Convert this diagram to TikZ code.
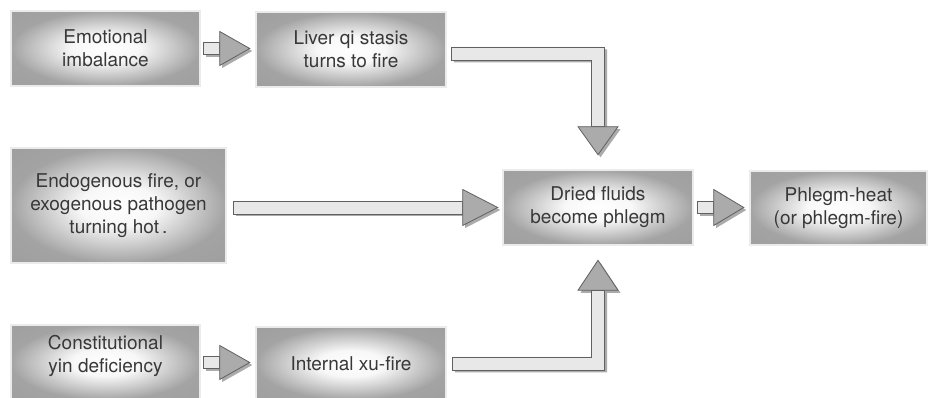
\documentclass[tikz,border=0pt]{standalone}
\usepackage{fontspec}
\setmainfont{TeX Gyre Heros}
\usetikzlibrary{calc,shadows}
\pgfdeclareradialshading{boxshade}{\pgfpoint{0bp}{0bp}}{color(0bp)=(white); color(9bp)=(white!97!black); color(25bp)=(black!36); color(50bp)=(black!40)}
\tikzset{
  box/.style={rectangle, shading=boxshade, draw=black!60, line width=0.55pt,
    double=black!8, double distance=1.4pt, inner sep=0pt,
    text=black!78, align=center, font=\fontsize{19}{23}\selectfont},
  txt/.style={text=black!78, align=center, font=\fontsize{19}{23}\selectfont, inner sep=0pt},
  shaftsty/.style={fill=black!9, draw=black!62, line width=0.8pt, line join=miter,
    drop shadow={shadow xshift=2.5pt, shadow yshift=-2.5pt, fill=black!55, opacity=0.6}},
  headsty/.style={fill=black!33, draw=black!62, line width=0.8pt, line join=miter,
    drop shadow={shadow xshift=2.5pt, shadow yshift=-2.5pt, fill=black!55, opacity=0.6}}
}
\begin{document}
\begin{tikzpicture}[x=1pt,y=1pt]
\useasboundingbox (0,0) rectangle (929,398);
\clip (0,0) rectangle (929,398);
\fill[white] (0,0) rectangle (929,398);

% boxes
\node[box, minimum width=189, minimum height=75] (emo) at (105.5,349.5) {Emotional\\imbalance};
\node[box, minimum width=190, minimum height=75] (liver) at (351,348.5) {Liver qi stasis\\turns to fire};
\node[box, minimum width=215, minimum height=115] (endo) at (118.5,192.5) {Endogenous fire, or\\exogenous pathogen\\turning hot\,.};
\node[box, minimum width=190, minimum height=75] (dried) at (598,190.5) {Dried fluids\\become phlegm};
\node[box, minimum width=177, minimum height=74] (phlegm) at (838.5,190) {Phlegm-heat\\(or phlegm-fire)};
\node[box, minimum width=189, minimum height=75] (const) at (105.5,35.5) {};
\node[txt] (consttxt) at ($(const.north)+(0,-31)$) {Constitutional\\yin deficiency};
\node[box, minimum width=190, minimum height=73] (internal) at (351,34.5) {Internal xu-fire};

% straight small arrows
\coordinate (a1s) at ($(emo.east)+(3,0)$);
\coordinate (a1t) at ($(liver.west)+(-6,0)$);
\filldraw[shaftsty] let \p1=(a1s), \p2=(a1t) in
  (\x1,\y1+6pt) -- (\x2-30pt,\y1+6pt) -- (\x2-30pt,\y1-6pt) -- (\x1,\y1-6pt) -- cycle;
\filldraw[headsty] let \p1=(a1s), \p2=(a1t) in
  (\x2-30pt,\y1+17pt) -- (\x2,\y1) -- (\x2-30pt,\y1-17pt) -- cycle;

\coordinate (a5s) at ($(const.east)+(3,0)$);
\coordinate (a5t) at ($(internal.west)+(-6,0)$);
\filldraw[shaftsty] let \p1=(a5s), \p2=(a5t) in
  (\x1,\y1+6pt) -- (\x2-30pt,\y1+6pt) -- (\x2-30pt,\y1-6pt) -- (\x1,\y1-6pt) -- cycle;
\filldraw[headsty] let \p1=(a5s), \p2=(a5t) in
  (\x2-30pt,\y1+17pt) -- (\x2,\y1) -- (\x2-30pt,\y1-17pt) -- cycle;

\coordinate (a4s) at ($(dried.east)+(4,0)$);
\coordinate (a4t) at ($(phlegm.west)+(-6,0)$);
\filldraw[shaftsty] let \p1=(a4s), \p2=(a4t) in
  (\x1,\y1+6pt) -- (\x2-30pt,\y1+6pt) -- (\x2-30pt,\y1-6pt) -- (\x1,\y1-6pt) -- cycle;
\filldraw[headsty] let \p1=(a4s), \p2=(a4t) in
  (\x2-30pt,\y1+18pt) -- (\x2,\y1) -- (\x2-30pt,\y1-18pt) -- cycle;

% long middle arrow
\coordinate (a3s) at ($(endo.east |- dried.west)+(7,0)$);
\coordinate (a3t) at ($(dried.west)+(-5,0)$);
\filldraw[shaftsty] let \p1=(a3s), \p2=(a3t) in
  (\x1,\y1+6.5pt) -- (\x2-35pt,\y1+6.5pt) -- (\x2-35pt,\y1-6.5pt) -- (\x1,\y1-6.5pt) -- cycle;
\filldraw[headsty] let \p1=(a3s), \p2=(a3t) in
  (\x2-35pt,\y1+18pt) -- (\x2,\y1) -- (\x2-35pt,\y1-18pt) -- cycle;

% top bent arrow
\coordinate (a2s) at ($(liver.east)+(5,-4)$);
\coordinate (a2t) at ($(dried.north)+(0,15)$);
\filldraw[shaftsty] let \p1=(a2s), \p2=(a2t) in
  (\x1,\y1+6.5pt) -- (\x2+6.5pt,\y1+6.5pt) -- (\x2+6.5pt,\y2+28pt) -- (\x2-6.5pt,\y2+28pt)
  -- (\x2-6.5pt,\y1-6.5pt) -- (\x1,\y1-6.5pt) -- cycle;
\filldraw[headsty] let \p2=(a2t) in
  (\x2-20pt,\y2+28pt) -- (\x2+20pt,\y2+28pt) -- (\x2,\y2) -- cycle;

% bottom bent arrow
\coordinate (a6s) at ($(internal.east)+(6,0)$);
\coordinate (a6t) at ($(dried.south)+(0,-15)$);
\filldraw[headsty] let \p2=(a6t) in
  (\x2-20pt,\y2-30pt) -- (\x2+20pt,\y2-30pt) -- (\x2,\y2) -- cycle;
\filldraw[shaftsty] let \p1=(a6s), \p2=(a6t) in
  (\x1,\y1+6.5pt) -- (\x2-6.5pt,\y1+6.5pt) -- (\x2-6.5pt,\y2-30pt) -- (\x2+6.5pt,\y2-30pt)
  -- (\x2+6.5pt,\y1-6.5pt) -- (\x1,\y1-6.5pt) -- cycle;
\end{tikzpicture}
\end{document}
